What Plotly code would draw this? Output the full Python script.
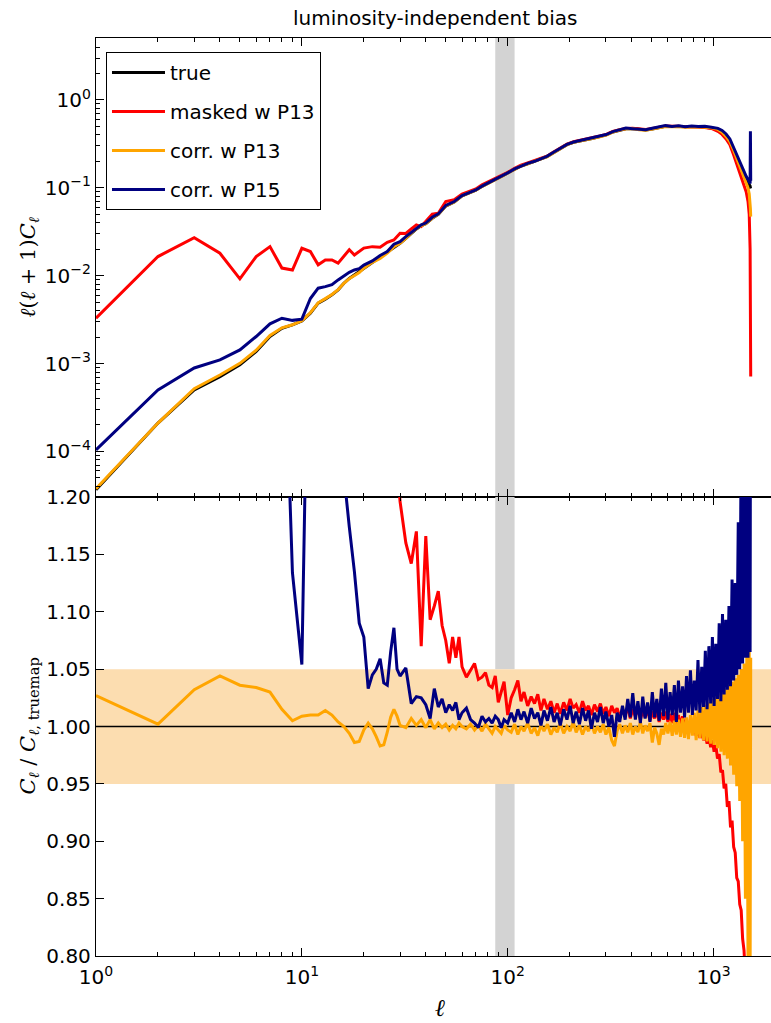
import numpy as np
import plotly.graph_objects as go

# ---------------------------------------------------------------------------
# Angular power spectra  l(l+1)C_l  (upper panel)
# ---------------------------------------------------------------------------
ell_spec = [1, 2, 3, 4, 5, 6, 7, 8, 9, 10, 11, 12, 13, 14, 15, 16, 17, 18, 19, 20,
            22, 24, 26, 28, 30, 32, 34, 36, 38, 40,
            43, 46, 50, 55, 60, 65, 70, 75, 80, 85, 90, 95, 100,
            108, 116, 125, 134, 144, 155, 167, 180, 194, 209, 225, 242, 260, 280, 301, 324,
            349, 375, 404, 435, 468, 504, 542, 584, 628, 676, 728, 783, 843, 907, 976, 1050,
            1100, 1150, 1200, 1250, 1300, 1350, 1400, 1440, 1470, 1490, 1505, 1510, 1515]

cl_true = [3.66e-5, 2.10e-4, 5.00e-4, 7.10e-4, 9.70e-4, 1.37e-3, 2.03e-3, 2.52e-3, 2.75e-3, 3.05e-3,
           3.74e-3, 4.86e-3, 5.40e-3, 6.05e-3, 6.90e-3, 8.20e-3, 9.30e-3, 1.02e-2, 1.10e-2, 1.22e-2,
           1.42e-2, 1.60e-2, 1.82e-2, 2.10e-2, 2.34e-2, 2.65e-2, 3.05e-2, 3.40e-2, 3.70e-2, 3.90e-2,
           4.50e-2, 5.00e-2, 6.20e-2, 6.90e-2, 8.10e-2, 8.80e-2, 9.40e-2, 0.104, 0.112, 0.120, 0.128, 0.138, 0.148,
           0.163, 0.177, 0.188, 0.198, 0.212, 0.226, 0.252, 0.280, 0.310, 0.330, 0.340, 0.357, 0.366, 0.383,
           0.400, 0.432, 0.455, 0.470, 0.472, 0.460, 0.455, 0.468, 0.485, 0.500, 0.497, 0.498, 0.490, 0.495,
           0.495, 0.490, 0.480, 0.460,
           0.430, 0.390, 0.340, 0.275, 0.220, 0.175, 0.142, 0.125, 0.115, 0.110, 0.105, 0.100, 0.098]

cl_masked_p13 = [3.28e-3, 1.65e-2, 2.71e-2, 1.80e-2, 9.20e-3, 1.65e-2, 2.14e-2, 1.22e-2, 1.16e-2, 2.05e-2,
                 1.88e-2, 1.33e-2, 1.51e-2, 1.51e-2, 1.39e-2, 1.65e-2, 1.97e-2, 1.72e-2, 1.88e-2, 2.06e-2,
                 2.14e-2, 2.11e-2, 2.40e-2, 2.55e-2, 3.04e-2, 3.02e-2, 3.40e-2, 3.78e-2, 3.62e-2, 4.13e-2,
                 5.00e-2, 5.14e-2, 6.97e-2, 7.30e-2, 8.50e-2, 9.10e-2, 9.70e-2, 0.108, 0.116, 0.124, 0.131, 0.142, 0.150,
                 0.167, 0.181, 0.192, 0.202, 0.215, 0.229, 0.255, 0.283, 0.314, 0.335, 0.346, 0.362, 0.371, 0.388,
                 0.405, 0.437, 0.458, 0.474, 0.475, 0.464, 0.460, 0.472, 0.490, 0.505, 0.502, 0.503, 0.494, 0.497,
                 0.493, 0.486, 0.474, 0.440,
                 0.405, 0.360, 0.310, 0.240, 0.185, 0.140, 0.110, 0.090, 0.070, 0.050, 0.020, 0.004, 7.1e-4]

cl_corr_p13 = [3.76e-5, 2.10e-4, 5.16e-4, 7.41e-4, 1.005e-3, 1.417e-3, 2.09e-3, 2.55e-3, 2.76e-3, 3.08e-3,
               3.78e-3, 4.91e-3, 5.48e-3, 6.11e-3, 6.92e-3, 8.20e-3, 9.25e-3, 1.005e-2, 1.085e-2, 1.216e-2,
               1.417e-2, 1.574e-2, 1.81e-2, 2.13e-2, 2.34e-2, 2.65e-2, 3.07e-2, 3.41e-2, 3.72e-2, 3.90e-2,
               4.52e-2, 5.01e-2, 6.21e-2, 6.90e-2, 8.10e-2, 8.79e-2, 9.38e-2, 0.1038, 0.1119, 0.1197, 0.1277,
               0.1378, 0.1476,
               0.1625, 0.1768, 0.1874, 0.1975, 0.2116, 0.2255, 0.2510, 0.2792, 0.3094, 0.3290, 0.3392, 0.3560,
               0.3652, 0.3818, 0.3985, 0.4295, 0.4540, 0.4688, 0.4712, 0.4585, 0.4530, 0.4668, 0.4835, 0.4985,
               0.4962, 0.4975, 0.4890, 0.4950, 0.4960, 0.4900, 0.4810, 0.4620,
               0.430, 0.385, 0.335, 0.270, 0.215, 0.170, 0.135, 0.115, 0.100, 0.085, 0.070, 0.058, 0.047]

cl_corr_p15 = [1.04e-4, 5.00e-4, 8.90e-4, 1.10e-3, 1.43e-3, 2.03e-3, 2.83e-3, 3.28e-3, 3.10e-3, 3.20e-3,
               5.50e-3, 7.20e-3, 7.50e-3, 7.90e-3, 8.95e-3, 1.00e-2, 1.09e-2, 1.16e-2, 1.20e-2, 1.32e-2,
               1.47e-2, 1.70e-2, 1.88e-2, 2.28e-2, 2.44e-2, 2.78e-2, 3.10e-2, 3.47e-2, 3.80e-2, 3.97e-2,
               4.62e-2, 5.05e-2, 6.30e-2, 6.98e-2, 8.15e-2, 8.80e-2, 9.45e-2, 0.1045, 0.1125, 0.1205, 0.1285,
               0.1380, 0.1480,
               0.164, 0.178, 0.190, 0.199, 0.213, 0.228, 0.254, 0.283, 0.312, 0.332, 0.345, 0.360, 0.372, 0.386,
               0.404, 0.436, 0.460, 0.478, 0.470, 0.468, 0.458, 0.476, 0.490, 0.510, 0.500, 0.508, 0.495, 0.505,
               0.500, 0.503, 0.490, 0.475,
               0.450, 0.410, 0.360, 0.290, 0.235, 0.190, 0.152, 0.135, 0.124, 0.118, 0.112, 0.440, 0.120]

# ---------------------------------------------------------------------------
# Ratios  C_l / C_l,truemap  (lower panel)
# ---------------------------------------------------------------------------
ell_ratio = [1, 2, 3, 4, 5, 6, 7, 8, 9, 10, 11, 12, 13, 14, 15, 16, 17, 18, 19, 20,
             21, 22, 23, 24, 25, 26, 27, 28, 29, 30,
             32, 34, 36, 38, 40, 42, 44, 46, 48, 50, 52, 54, 56, 58, 60,
             63, 66, 69, 72, 75, 78, 81, 84, 87, 90, 93, 96, 100,
             104, 108, 112, 116, 120, 125, 130, 135, 140, 145, 150,
             156, 162, 168, 174, 180, 187, 194, 201, 208, 215,
             223, 231, 239, 247, 255, 264, 273, 282, 291, 300,
             310, 320, 330, 340, 350, 361, 372, 383, 394, 405,
             417, 429, 441, 453, 465, 478, 491, 504, 517, 530,
             544, 558, 572, 586, 600, 615, 630, 645, 660, 675,
             691, 707, 723, 739, 755, 772, 789, 806, 823, 840,
             858, 876, 894, 912, 930, 949, 968, 987, 1006, 1025,
             1045, 1065, 1085, 1105, 1125, 1146, 1167, 1188, 1209, 1230,
             1252, 1274, 1296, 1318, 1340, 1362, 1384, 1406, 1428, 1450,
             1470, 1490, 1505, 1515]

ratio_masked_p13 = [89.6, 78.6, 54.2, 25.4, 9.48, 12.0, 10.5, 4.84, 4.22, 6.72,
                    5.03, 2.74, 2.80, 2.50, 2.01, 2.01, 2.12, 1.69, 1.71, 1.69,
                    1.62, 1.51, 1.44, 1.31, 1.33, 1.32, 1.35, 1.26, 1.23, 1.196,
                    1.160, 1.142, 1.170, 1.070, 1.166, 1.093, 1.105, 1.118, 1.088, 1.075,
                    1.055, 1.078, 1.060, 1.078, 1.052,
                    1.043, 1.049, 1.055, 1.041, 1.043, 1.047, 1.036, 1.034, 1.044, 1.021, 1.030, 1.039, 1.010,
                    1.025, 1.032, 1.040, 1.022, 1.030, 1.018, 1.026, 1.020, 1.028, 1.014, 1.024,
                    1.015, 1.022, 1.012, 1.020, 1.011, 1.021, 1.014, 1.024, 1.016, 1.019,
                    1.012, 1.022, 1.014, 1.018, 1.010, 1.019, 1.013, 1.020, 1.011, 1.017,
                    1.009, 1.018, 1.012, 1.016, 1.008, 1.015, 1.010, 1.017, 1.007, 1.015,
                    1.009, 1.016, 1.006, 1.014, 1.008, 1.015, 1.005, 1.013, 1.007, 1.014,
                    1.004, 1.012, 1.006, 1.013, 1.004, 1.011, 1.003, 1.012, 1.002, 1.010,
                    1.000, 1.009, 0.999, 1.006, 0.997, 1.004, 0.995, 1.000, 0.992, 0.998,
                    0.990, 0.996, 0.988, 0.993, 0.985, 0.991, 0.982, 0.988, 0.978, 0.984,
                    0.972, 0.976, 0.960, 0.962, 0.946, 0.950, 0.930, 0.935, 0.912, 0.918,
                    0.895, 0.890, 0.868, 0.865, 0.845, 0.840, 0.815, 0.805, 0.780, 0.740,
                    0.650, 0.450, 0.150, 0.006]

ratio_corr_p13 = [1.027, 1.002, 1.032, 1.044, 1.036, 1.034, 1.030, 1.015, 1.005, 1.009,
                  1.010, 1.010, 1.014, 1.010, 1.004, 1.000, 0.994, 0.986, 0.987, 0.997,
                  1.003, 0.998, 0.991, 0.983, 0.984, 0.995, 1.008, 1.015, 1.009, 1.001,
                  0.999, 1.007, 1.001, 1.006, 0.999, 1.006, 0.998, 1.003, 0.999, 1.002,
                  0.997, 1.001, 0.998, 1.003, 1.000,
                  0.998, 1.002, 0.997, 1.001, 0.996, 1.002, 0.998, 0.994, 1.000, 0.997, 0.994, 1.001, 0.997,
                  0.995, 1.002, 0.993, 1.000, 0.996, 1.003, 0.994, 0.999, 0.992, 1.001, 0.996,
                  1.002, 0.993, 0.999, 0.995, 1.003, 0.994, 1.000, 0.996, 1.004, 0.995,
                  1.001, 0.993, 1.000, 0.996, 1.003, 0.994, 1.000, 0.995, 1.002, 0.993,
                  0.999, 0.988, 0.983, 0.996, 1.002, 0.994, 1.001, 0.995, 1.003, 0.993,
                  1.000, 0.995, 1.004, 0.994, 1.001, 0.996, 1.003, 0.986, 0.999, 0.994,
                  0.984, 0.998, 0.993, 1.003, 0.994, 1.004, 0.992, 1.005, 0.993, 1.006,
                  0.991, 1.007, 0.990, 1.008, 0.989, 1.010, 0.992, 1.012, 0.988, 1.014,
                  0.990, 1.017, 0.988, 1.019, 0.987, 1.021, 0.985, 1.024, 0.984, 1.026,
                  0.981, 1.028, 0.978, 1.031, 0.975, 1.033, 0.972, 1.036, 0.966, 1.039,
                  0.958, 1.042, 0.948, 1.045, 0.935, 1.050, 0.900, 1.055, 0.850, 1.062,
                  0.800, 1.067, 0.780, 1.060]

ratio_corr_p15 = [2.84, 2.38, 1.78, 1.55, 1.47, 1.48, 1.39, 1.41, 1.134, 1.054,
                  1.47, 1.48, 1.39, 1.31, 1.30, 1.22, 1.174, 1.135, 1.090, 1.078,
                  1.033, 1.045, 1.050, 1.059, 1.038, 1.036, 1.065, 1.086, 1.050, 1.044,
                  1.051, 1.020, 1.026, 1.025, 1.019, 1.007, 1.033, 1.017, 1.024, 1.012,
                  1.019, 1.014, 1.021, 1.006, 1.012,
                  1.016, 1.006, 1.003, 0.999, 1.009, 1.004, 1.007, 1.003, 1.009, 1.006, 0.999, 1.006, 1.003,
                  1.012, 1.004, 1.015, 1.006, 1.013, 1.003, 1.016, 1.007, 1.012, 1.001, 1.014,
                  1.005, 1.017, 1.004, 1.012, 1.001, 1.015, 1.006, 1.018, 1.003, 1.013,
                  1.002, 1.016, 1.005, 1.014, 0.998, 1.012, 1.004, 1.017, 1.003, 1.013,
                  1.000, 1.010, 0.991, 1.012, 1.004, 1.018, 1.006, 1.024, 1.008, 1.029,
                  1.006, 1.022, 1.003, 1.026, 1.007, 1.021, 1.004, 1.030, 1.008, 1.024,
                  1.005, 1.033, 1.009, 1.038, 1.006, 1.030, 1.010, 1.036, 1.004, 1.040,
                  1.012, 1.035, 1.008, 1.044, 1.012, 1.049, 1.010, 1.040, 1.014, 1.058,
                  1.012, 1.052, 1.017, 1.066, 1.015, 1.070, 1.020, 1.078, 1.018, 1.072,
                  1.024, 1.090, 1.022, 1.098, 1.028, 1.093, 1.032, 1.105, 1.035, 1.128,
                  1.040, 1.125, 1.045, 1.178, 1.050, 1.250, 1.055, 1.300, 1.060, 1.350,
                  1.060, 1.400, 1.065, 1.450]

for arr in (cl_true, cl_masked_p13, cl_corr_p13, cl_corr_p15):
    assert len(arr) == len(ell_spec), len(arr)
for arr in (ratio_masked_p13, ratio_corr_p13, ratio_corr_p15):
    assert len(arr) == len(ell_ratio), len(arr)

series_names = ["true", "masked w P13", "corr. w P13", "corr. w P15"]
series_colors = ["black", "#FF0000", "#FFA500", "#000080"]

excluded_ell = [87, 108]          # grey vertical band
tolerance_band = [0.95, 1.05]     # shaded 5 % band in the ratio panel
reference_ratio = 1.0

# axis extents (log10 units for the log axes)
ell_range_log = [0.0, 3.279]
spec_range_log = [-4.519, 0.705]
ratio_range = [0.80, 1.20]

x_ticks = [1, 10, 100, 1000]
x_tick_text = ["10<sup>0</sup>", "10<sup>1</sup>", "10<sup>2</sup>", "10<sup>3</sup>"]
spec_ticks = [1e-4, 1e-3, 1e-2, 1e-1, 1]
spec_tick_text = ["10<sup>\u22124</sup>", "10<sup>\u22123</sup>", "10<sup>\u22122</sup>",
                  "10<sup>\u22121</sup>", "10<sup>0</sup>"]
ratio_ticks = [0.80, 0.85, 0.90, 0.95, 1.00, 1.05, 1.10, 1.15, 1.20]

LINE_W = 3.0
GREY = "#D3D3D3"
PEACH = "#FCDDB0"

# ---------------------------------------------------------------------------
fig = go.Figure()

spectra = [cl_true, cl_masked_p13, cl_corr_p13, cl_corr_p15]
for name, color, vals in zip(series_names, series_colors, spectra):
    fig.add_trace(go.Scatter(x=ell_spec, y=vals, mode="lines", name=name, legendgroup=name,
                             line=dict(color=color, width=LINE_W), xaxis="x", yaxis="y"))

ratios = [(1, ratio_masked_p13), (2, ratio_corr_p13), (3, ratio_corr_p15)]
for idx, vals in ratios:
    fig.add_trace(go.Scatter(x=ell_ratio, y=vals, mode="lines", name=series_names[idx],
                             legendgroup=series_names[idx], showlegend=False,
                             line=dict(color=series_colors[idx], width=LINE_W), xaxis="x2", yaxis="y2"))

tick_font = dict(family="DejaVu Sans", size=20, color="black")
minor_x = [m * 10 ** k for k in range(0, 4) for m in range(2, 10)]
minor_y = [m * 10.0 ** k for k in range(-5, 1) for m in range(2, 10)]

x_common = dict(type="log", range=ell_range_log, showline=True, linecolor="black", linewidth=1.3,
                mirror="ticks", ticks="inside", ticklen=8, tickwidth=1, tickcolor="black",
                tickmode="array", tickvals=x_ticks, ticktext=x_tick_text,
                minor=dict(tickmode="array", tickvals=minor_x, ticks="inside", ticklen=4,
                           tickwidth=1, tickcolor="black"),
                showgrid=False, zeroline=False, tickfont=tick_font)

fig.update_layout(
    width=771, height=1023,
    margin=dict(l=96, r=0, t=38, b=67),
    paper_bgcolor="white", plot_bgcolor="white",
    font=dict(family="DejaVu Sans", size=20, color="black"),
    xaxis=dict(**x_common, anchor="y", domain=[0, 1], showticklabels=False),
    xaxis2=dict(**x_common, anchor="y2", domain=[0, 1], matches="x", ticklabelstandoff=3),
    yaxis=dict(type="log", domain=[0.5, 1], range=spec_range_log, showline=True,
               linecolor="black", linewidth=1.3, ticks="inside", ticklen=8, tickwidth=1,
               tickcolor="black", tickmode="array", tickvals=spec_ticks, ticktext=spec_tick_text,
               minor=dict(tickmode="array", tickvals=minor_y, ticks="inside", ticklen=4,
                          tickwidth=1, tickcolor="black"),
               showgrid=False, zeroline=False, tickfont=tick_font, anchor="x"),
    yaxis2=dict(domain=[0, 0.5], range=ratio_range, showline=True, linecolor="black",
                linewidth=1.3, ticks="inside", ticklen=8, tickwidth=1, tickcolor="black",
                tickmode="array", tickvals=ratio_ticks,
                ticktext=[f"{v:.2f}" for v in ratio_ticks],
                showgrid=False, zeroline=False, tickfont=tick_font, anchor="x2"),
    legend=dict(x=0.0148, y=0.9847, xanchor="left", yanchor="top",
                bgcolor="white", bordercolor="black", borderwidth=1,
                font=dict(family="DejaVu Sans", size=20, color="black"),
                tracegroupgap=10, itemwidth=53),
    showlegend=True,
)

ell_lo, ell_hi = 10 ** ell_range_log[0], 10 ** ell_range_log[1]

# excluded multipole range: full height in the spectra panel ...
fig.add_shape(type="rect", xref="x", yref="y",
              x0=excluded_ell[0], x1=excluded_ell[1],
              y0=10 ** spec_range_log[0], y1=10 ** spec_range_log[1],
              fillcolor=GREY, line=dict(width=0), layer="below")
# ... and outside the tolerance band in the ratio panel (the band sits on top of it)
for y0, y1 in [(ratio_range[0], tolerance_band[0]), (tolerance_band[1], ratio_range[1])]:
    fig.add_shape(type="rect", xref="x2", yref="y2",
                  x0=excluded_ell[0], x1=excluded_ell[1], y0=y0, y1=y1,
                  fillcolor=GREY, line=dict(width=0), layer="below")
# tolerance band and unit-ratio reference line
fig.add_shape(type="rect", xref="x2", yref="y2", x0=ell_lo, x1=ell_hi,
              y0=tolerance_band[0], y1=tolerance_band[1],
              fillcolor=PEACH, line=dict(width=0), layer="below")
fig.add_shape(type="line", xref="x2", yref="y2", x0=ell_lo, x1=ell_hi,
              y0=reference_ratio, y1=reference_ratio,
              line=dict(color="black", width=1.5), layer="below")

# titles
fig.add_annotation(text="luminosity-independent bias", xref="paper", yref="paper",
                   x=0.502, y=1.0218, xanchor="center", yanchor="middle", showarrow=False,
                   font=dict(family="DejaVu Sans", size=20, color="black"))
fig.add_annotation(text="<i>\u2113</i>(<i>\u2113</i> + 1)<i>C</i><sub><i>\u2113</i></sub>",
                   xref="paper", yref="paper", x=-0.1007, y=0.75, textangle=-90,
                   xanchor="center", yanchor="middle", showarrow=False,
                   font=dict(family="DejaVu Serif", size=21, color="black"))
fig.add_annotation(text="<i>C</i><sub><i>\u2113</i></sub> / <i>C</i><sub><i>\u2113</i>, truemap</sub>",
                   xref="paper", yref="paper", x=-0.1007, y=0.25, textangle=-90,
                   xanchor="center", yanchor="middle", showarrow=False,
                   font=dict(family="DejaVu Serif", size=21, color="black"))
fig.add_annotation(text="<i>\u2113</i>", xref="paper", yref="paper", x=0.51, y=-0.0566,
                   xanchor="center", yanchor="middle", showarrow=False,
                   font=dict(family="DejaVu Serif", size=24, color="black"))

fig.write_html("out.html")
